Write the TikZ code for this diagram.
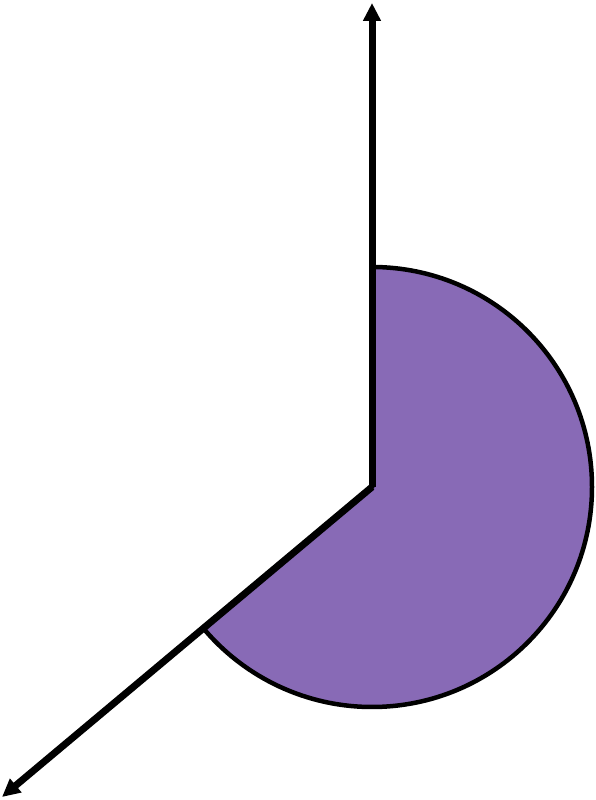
\documentclass[tikz,border=0pt]{standalone}
\usepackage{tikz}
\usetikzlibrary{arrows.meta}
\definecolor{sectorpurple}{RGB}{136,106,182}

\begin{document}
\begin{tikzpicture}[x=1pt,y=1pt, axis/.style={line width=7pt,-{Triangle[width=17pt,length=18pt]}}]
			\useasboundingbox (0,0) rectangle (596,800);
			\coordinate (O) at (372,313);
			\coordinate (up) at (372,797);
			\coordinate (low) at (2,3);
			
			\filldraw[fill=sectorpurple, line width=4.5pt] (O) -- ++(90:220) arc (90:-140:220) -- cycle;
			
			\draw[axis] (O) -- (up);
			\draw[axis] (O) -- (low);
		\end{tikzpicture}
\end{document}
